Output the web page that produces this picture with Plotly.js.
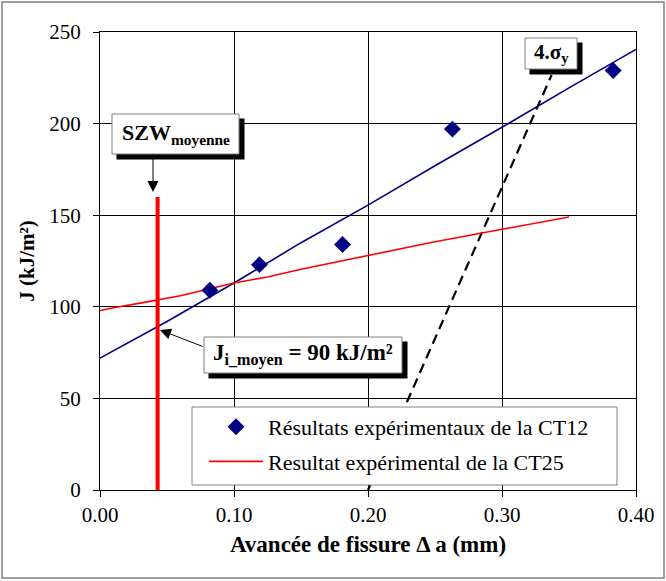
<!DOCTYPE html>
<html>
<head>
<meta charset="utf-8">
<script src="https://cdn.plot.ly/plotly-3.0.1.min.js"></script>
<style>html,body{margin:0;padding:0;background:#fff;}#chart{width:666px;height:581px;}</style>
</head>
<body>
<div id="chart"></div>
<script>
// ---- data ----
const ct12X = [0.082, 0.119, 0.181, 0.263, 0.383];
const ct12Y = [109, 123, 134, 197, 229];

const fitX = [0, 0.05, 0.10, 0.15, 0.20, 0.25, 0.30, 0.35, 0.40];
const fitY = [72, 92, 113, 135, 155.5, 177, 198, 219.5, 240.5];

const ct25X = [0, 0.01, 0.03, 0.06, 0.10, 0.125, 0.15, 0.20, 0.25, 0.30, 0.35];
const ct25Y = [98, 99.5, 102, 106, 113, 116.3, 120.5, 128, 135.5, 142.3, 149];

const szwX = [0.043, 0.043];
const szwY = [0, 160];

const blX = [0.200, 0.337];
const blY = [0, 226.5];

const xTicks = [0, 0.1, 0.2, 0.3, 0.4];
const xTickText = ['0.00', '0.10', '0.20', '0.30', '0.40'];
const yTicks = [0, 50, 100, 150, 200, 250];

const legendNames = ['Résultats expérimentaux de la CT12', 'Resultat expérimental de la CT25'];

// ---- layout helpers (pixel -> paper) ----
const L = 100, R = 636, T = 32, B = 490;
const px = p => (p - L) / (R - L);
const py = p => (B - p) / (B - T);
const FONT = 'Liberation Serif, Times New Roman, serif';

function box(x0, y0, x1, y1, fill, line) {
  return {type: 'rect', xref: 'paper', yref: 'paper', layer: 'above',
    x0: px(x0), x1: px(x1), y0: py(y1), y1: py(y0),
    fillcolor: fill, line: line};
}
function shadowBox(x0, y0, x1, y1) {
  return [
    box(x0 + 4.5, y0 + 4.5, x1 + 5.5, y1 + 5.5, '#000', {width: 0}),
    box(x0, y0, x1, y1, '#fff', {color: '#808080', width: 1})
  ];
}

const traces = [
  {x: fitX, y: fitY, type: 'scatter', mode: 'lines', line: {color: '#000080', width: 1.6}, showlegend: false, hoverinfo: 'skip'},
  {x: blX, y: blY, type: 'scatter', mode: 'lines', line: {color: '#000', width: 2.2, dash: '10px,6px'}, showlegend: false, hoverinfo: 'skip'},
  {x: szwX, y: szwY, type: 'scatter', mode: 'lines', line: {color: '#ff0000', width: 4}, showlegend: false, hoverinfo: 'skip'},
  {x: ct25X, y: ct25Y, type: 'scatter', mode: 'lines', name: legendNames[1], line: {color: '#ff0000', width: 1.6}, legendrank: 2, legendgroup: 'b'},
  {x: ct12X, y: ct12Y, type: 'scatter', mode: 'markers', name: legendNames[0], marker: {symbol: 'diamond', size: 13, color: '#000080'}, legendrank: 1, legendgroup: 'a'}
];

const shapes = [
  {type: 'rect', xref: 'paper', yref: 'paper', x0: px(2), x1: px(664), y0: py(578), y1: py(2), line: {color: '#808080', width: 1.5}, layer: 'below'},
  box(192, 407, 617, 485, '#fff', {color: '#808080', width: 1}),
  ...shadowBox(112, 114, 239, 154),
  ...shadowBox(525, 38, 577, 69),
  ...shadowBox(204, 337, 402, 373)
];

const annotations = [
  {xref: 'paper', yref: 'paper', x: px(176), y: py(134), xanchor: 'center', yanchor: 'middle', text: '<b>SZW<sub>moyenne</sub></b>', showarrow: false, font: {family: FONT, size: 22, color: '#000'}},
  {xref: 'paper', yref: 'paper', x: px(551), y: py(53), xanchor: 'center', yanchor: 'middle', text: '<b>4.σ<sub>y</sub></b>', showarrow: false, font: {family: FONT, size: 21, color: '#000'}},
  {xref: 'paper', yref: 'paper', x: px(303), y: py(355), xanchor: 'center', yanchor: 'middle', text: '<b>J<sub>i_moyen</sub> = 90 kJ/m²</b>', showarrow: false, font: {family: FONT, size: 23, color: '#000'}},
  {xref: 'paper', yref: 'paper', x: px(153), y: py(192), text: '', showarrow: true, ax: 0, ay: -38, arrowhead: 2, arrowsize: 2.2, arrowwidth: 1, arrowcolor: '#000', standoff: 0},
  {xref: 'paper', yref: 'paper', x: px(160), y: py(330), text: '', showarrow: true, ax: 44, ay: 17, arrowhead: 2, arrowsize: 2.2, arrowwidth: 1, arrowcolor: '#000', standoff: 0}
];

const axisCommon = {
  showgrid: true, gridcolor: '#000', gridwidth: 1,
  showline: true, linecolor: '#000', linewidth: 1, mirror: true,
  ticks: 'outside', ticklen: 6, tickcolor: '#000', tickwidth: 1,
  zeroline: false, tickfont: {family: FONT, size: 21, color: '#000'}
};

const layout = {
  width: 666, height: 581,
  margin: {l: L, r: 666 - R, t: T, b: 581 - B, pad: 0},
  paper_bgcolor: '#fff', plot_bgcolor: '#fff',
  font: {family: FONT, color: '#000'},
  showlegend: true,
  legend: {x: px(204), y: py(406), xanchor: 'left', yanchor: 'top', bgcolor: 'rgba(0,0,0,0)', borderwidth: 0,
    font: {family: FONT, size: 22, color: '#000'}, itemwidth: 54, tracegroupgap: 3},
  xaxis: Object.assign({}, axisCommon, {range: [0, 0.4], tickvals: xTicks, ticktext: xTickText,
    title: {text: 'Avancée de fissure Δ a (mm)', font: {family: FONT, size: 23, weight: 'bold', color: '#000'}, standoff: 9}}),
  yaxis: Object.assign({}, axisCommon, {range: [0, 250], tickvals: yTicks, ticklabelstandoff: 8,
    title: {text: 'J (kJ/m²)', font: {family: FONT, size: 21, weight: 'bold', color: '#000'}, standoff: 8}}),
  shapes: shapes,
  annotations: annotations
};

Plotly.newPlot('chart', traces, layout, {displayModeBar: false, staticPlot: true});
</script>
</body>
</html>
